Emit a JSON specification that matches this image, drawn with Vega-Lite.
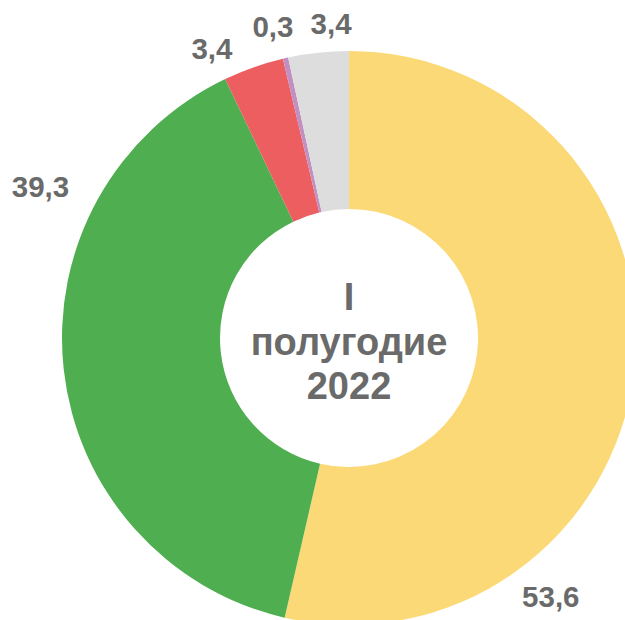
{
  "$schema": "https://vega.github.io/schema/vega-lite/v6.json",
  "width": 552,
  "height": 564,
  "autosize": {"type": "none"},
  "padding": {"left": 73, "top": 56, "right": 0, "bottom": 0},
  "background": "#ffffff",
  "config": {"view": {"stroke": null}},
  "data": {
    "values": [
      {"i": 1, "category": "A", "value": 53.6, "label": "53,6"},
      {"i": 2, "category": "B", "value": 39.3, "label": "39,3"},
      {"i": 3, "category": "C", "value": 3.4, "label": "3,4"},
      {"i": 4, "category": "D", "value": 0.3, "label": "0,3"},
      {"i": 5, "category": "E", "value": 3.4, "label": "3,4"}
    ]
  },
  "layer": [
    {
      "mark": {"type": "arc", "innerRadius": 129, "outerRadius": 287},
      "encoding": {
        "theta": {"field": "value", "type": "quantitative", "stack": true},
        "order": {"field": "i", "type": "quantitative"},
        "color": {
          "field": "category",
          "type": "nominal",
          "scale": {"domain": ["A", "B", "C", "D", "E"], "range": ["#FCD977", "#4FAE4F", "#EC5E60", "#C190C0", "#DDDDDD"]},
          "legend": null
        }
      }
    },
    {
      "transform": [{"filter": "datum.i == 1"}],
      "mark": {"type": "text", "theta": 2.4812, "radius": 329, "font": "Liberation Sans", "fontSize": 29.5, "fontWeight": "bold", "color": "#6A6A6A", "align": "center", "baseline": "middle"},
      "encoding": {"text": {"field": "label"}}
    },
    {
      "transform": [{"filter": "datum.i == 2"}],
      "mark": {"type": "text", "theta": 5.1645, "radius": 343, "font": "Liberation Sans", "fontSize": 29.5, "fontWeight": "bold", "color": "#6A6A6A", "align": "center", "baseline": "middle"},
      "encoding": {"text": {"field": "label"}}
    },
    {
      "transform": [{"filter": "datum.i == 3"}],
      "mark": {"type": "text", "theta": 5.8391, "radius": 319, "font": "Liberation Sans", "fontSize": 29.5, "fontWeight": "bold", "color": "#6A6A6A", "align": "center", "baseline": "middle"},
      "encoding": {"text": {"field": "label"}}
    },
    {
      "transform": [{"filter": "datum.i == 4"}],
      "mark": {"type": "text", "theta": 6.0425, "radius": 319, "font": "Liberation Sans", "fontSize": 29.5, "fontWeight": "bold", "color": "#6A6A6A", "align": "center", "baseline": "middle"},
      "encoding": {"text": {"field": "label"}}
    },
    {
      "transform": [{"filter": "datum.i == 5"}],
      "mark": {"type": "text", "theta": 6.226, "radius": 314, "font": "Liberation Sans", "fontSize": 29.5, "fontWeight": "bold", "color": "#6A6A6A", "align": "center", "baseline": "middle"},
      "encoding": {"text": {"field": "label"}}
    },
    {
      "transform": [{"filter": "datum.i == 1"}],
      "mark": {"type": "text", "font": "Liberation Sans", "fontSize": 38, "fontWeight": "bold", "color": "#6A6A6A", "align": "center", "baseline": "middle", "lineHeight": 44.5, "dy": -39},
      "encoding": {"text": {"value": ["I", "полугодие", "2022"]}}
    }
  ]
}
